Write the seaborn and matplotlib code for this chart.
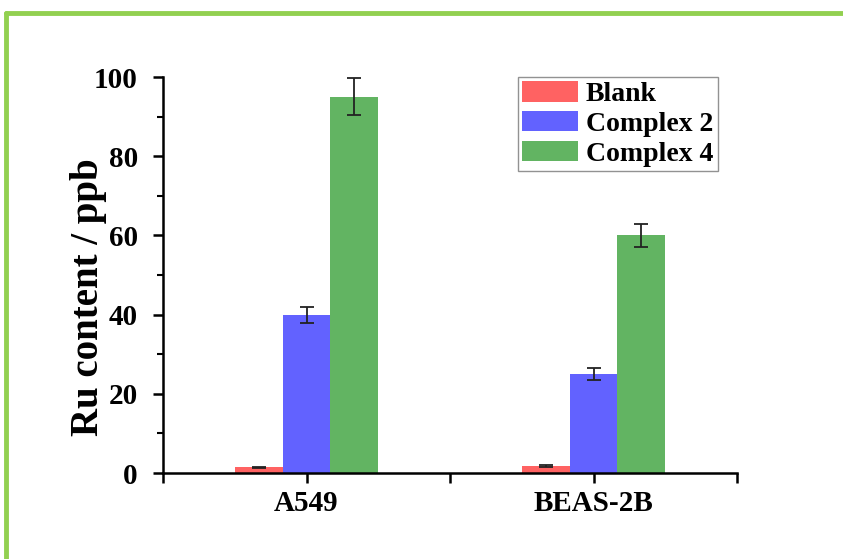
import matplotlib
matplotlib.use("Agg")
import matplotlib.pyplot as plt
from matplotlib.lines import Line2D
from matplotlib.ticker import MultipleLocator, FixedLocator
import seaborn as sns
import pandas as pd

# Ru uptake measured by ICP-MS
cell_lines = ["A549", "BEAS-2B"]
treatments = ["Blank", "Complex 2", "Complex 4"]
blank_mean = [1.4, 1.8]
blank_sd = [0.2, 0.2]
complex2_mean = [40.0, 25.0]
complex2_sd = [2.0, 1.4]
complex4_mean = [95.0, 60.0]
complex4_sd = [4.7, 3.0]

colors = ["#FF6262", "#6262FF", "#62B462"]

rows = []
for t, means, sds in zip(treatments,
                         [blank_mean, complex2_mean, complex4_mean],
                         [blank_sd, complex2_sd, complex4_sd]):
    for c, m, s in zip(cell_lines, means, sds):
        rows.append({"cell": c, "treatment": t, "ru": m, "sd": s})
df = pd.DataFrame(rows)

sns.set_theme(style="ticks")
plt.rcParams["font.family"] = ["Liberation Serif", "DejaVu Serif"]
plt.rcParams["font.weight"] = "bold"
plt.rcParams["text.color"] = "black"
plt.rcParams["axes.labelcolor"] = "black"
plt.rcParams["xtick.color"] = "black"
plt.rcParams["ytick.color"] = "black"

fig = plt.figure(figsize=(8.43, 5.59), dpi=100)
fig.patch.set_facecolor("white")
ax = fig.add_axes([163 / 843, 1 - 473 / 559, 574 / 843, 396 / 559])

sns.barplot(data=df, x="cell", y="ru", hue="treatment", order=cell_lines,
            hue_order=treatments, palette=colors, width=0.5, errorbar=None,
            saturation=1, linewidth=0, ax=ax)

# error bars centred on each drawn bar
for t, bars in zip(treatments, ax.containers):
    sub = df[df["treatment"] == t].set_index("cell").loc[cell_lines]
    xs = [p.get_x() + p.get_width() / 2 for p in bars.patches]
    ax.errorbar(xs, sub["ru"].values, yerr=sub["sd"].values, fmt="none",
                ecolor="#222222", elinewidth=1.3, capsize=5, capthick=1.3,
                zorder=5)

ax.set_xlim(-0.5, 1.5)
ax.set_ylim(0, 100)
ax.yaxis.set_major_locator(MultipleLocator(20))
ax.yaxis.set_minor_locator(MultipleLocator(10))
ax.xaxis.set_major_locator(FixedLocator([-0.5, 0, 0.5, 1, 1.5]))
ax.set_xticklabels(["", "A549", "", "BEAS-2B", ""])

for s in ["top", "right"]:
    ax.spines[s].set_visible(False)
for s in ["left", "bottom"]:
    ax.spines[s].set_linewidth(1.8)
    ax.spines[s].set_color("black")

ax.tick_params(axis="both", which="major", direction="out", length=7,
               width=1.8, color="black")
ax.tick_params(axis="y", which="minor", direction="out", length=4,
               width=1.5, color="black")
ax.tick_params(axis="y", labelsize=21, pad=11, labelcolor="black")
ax.tick_params(axis="x", labelsize=21, pad=5, labelcolor="black")
for lab in ax.get_xticklabels() + ax.get_yticklabels():
    lab.set_fontweight("bold")

ax.set_xlabel("")
ax.set_ylabel("Ru content / ppb", fontsize=28, fontweight="bold",
              color="black")
ax.yaxis.set_label_coords(-0.097, 0.445)

handles, labels = ax.get_legend_handles_labels()
leg = ax.legend(handles, labels, loc="upper left",
                bbox_to_anchor=((518 - 163) / 574, 1.0),
                prop={"family": "Liberation Serif", "weight": "bold", "size": 20},
                frameon=True, fancybox=False, edgecolor="#777777",
                handlelength=2.0, handleheight=0.75, handletextpad=0.3,
                labelspacing=0.14, borderpad=0.15, borderaxespad=0.0)
leg.get_frame().set_linewidth(1.0)
for txt in leg.get_texts():
    txt.set_color("black")

# green page frame
fig.add_artist(Line2D([6 / 843, 1.0], [1 - 13 / 559, 1 - 13 / 559],
                      transform=fig.transFigure, color="#92D050", lw=3.5))
fig.add_artist(Line2D([6 / 843, 6 / 843], [0.0, 1 - 13 / 559],
                      transform=fig.transFigure, color="#92D050", lw=3.5))

fig.savefig("out.png", dpi=100, facecolor="white")
